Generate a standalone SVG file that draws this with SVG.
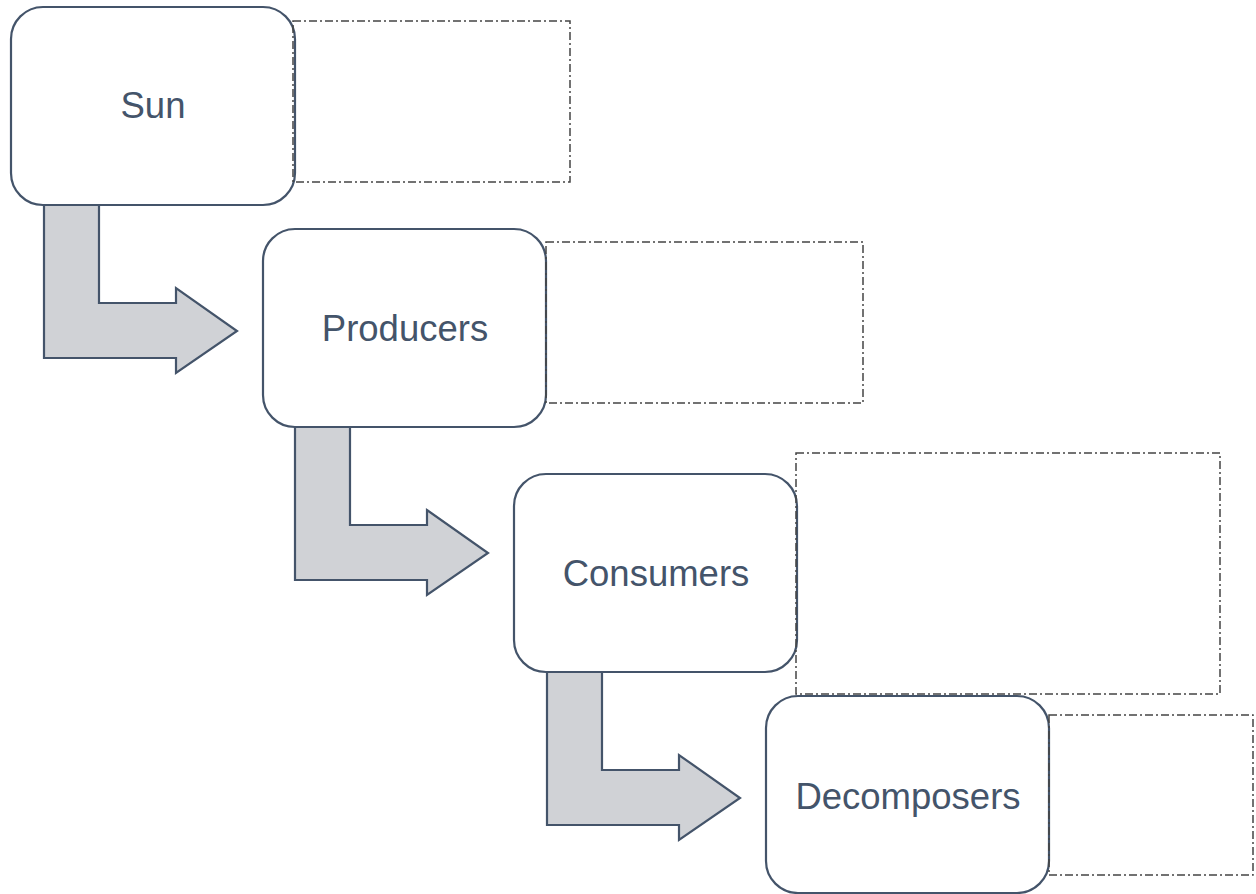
<svg xmlns="http://www.w3.org/2000/svg" width="1256" height="894" viewBox="0 0 1256 894">
<style>
.node{fill:#fff;stroke:#44546A;stroke-width:2.2}
.lbl{font-family:"Liberation Sans",Arial,sans-serif;font-size:36.5px;fill:#44546A;text-anchor:middle}
.arrow{fill:#D0D2D6;stroke:#44546A;stroke-width:2.2;stroke-linejoin:miter}
.note{fill:none;stroke:#444;stroke-width:1.5;stroke-dasharray:8 3 2 3}
</style>
<rect width="1256" height="894" fill="#fff"/>
<g id="connectors">
<path class="arrow" d="M44,205 V358 H176 V373 L237,331 L176,288 V303 H99 V205 Z"/>
<path class="arrow" d="M295,427 V580 H427 V595 L488,553 L427,510 V525 H350 V427 Z"/>
<path class="arrow" d="M547,672 V825 H679 V840 L740,798 L679,755 V770 H602 V672 Z"/>
</g>
<g id="sun"><rect class="node" x="11" y="7" width="284" height="198" rx="32"/><text class="lbl" x="153" y="118">Sun</text></g>
<g id="producers"><rect class="node" x="263" y="229" width="283" height="198" rx="32"/><text class="lbl" x="405" y="341">Producers</text></g>
<g id="consumers"><rect class="node" x="514" y="474" width="283" height="198" rx="32"/><text class="lbl" x="656" y="586">Consumers</text></g>
<g id="decomposers"><rect class="node" x="766" y="696" width="283" height="197" rx="32"/><text class="lbl" x="908" y="809">Decomposers</text></g>
<g id="note1"><rect class="note" x="293" y="21" width="277" height="161"/></g>
<g id="note2"><rect class="note" x="546" y="242" width="317" height="161"/></g>
<g id="note3"><rect class="note" x="796" y="453" width="424" height="241"/></g>
<g id="note4"><rect class="note" x="1049" y="715" width="204" height="160"/></g>
</svg>
